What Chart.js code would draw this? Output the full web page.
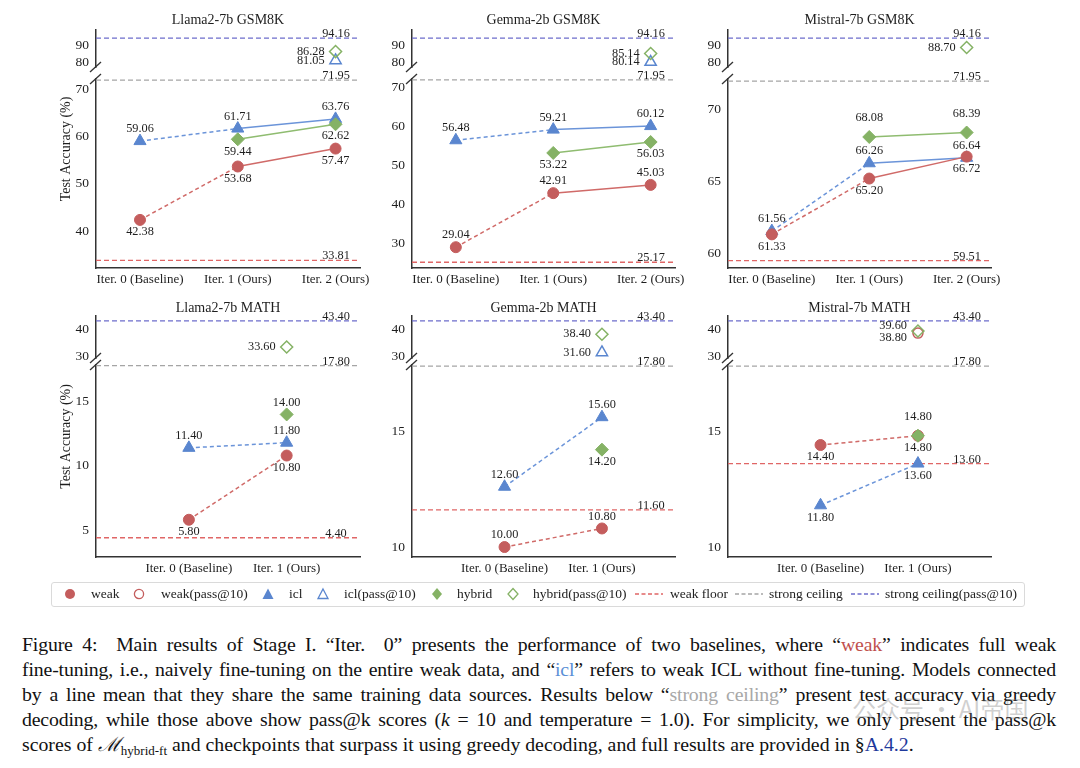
<!DOCTYPE html>
<html>
<head>
<meta charset="utf-8">
<script src="https://cdn.jsdelivr.net/npm/chart.js@4.4.1/dist/chart.umd.min.js"></script>
<style>
  body { margin: 0; background: #fff; width: 1080px; height: 768px; position: relative; overflow: hidden; font-family: "Liberation Serif", "Times New Roman", serif; }
  canvas.panel { position: absolute; }
  #legend { position: absolute; left: 51px; top: 582px; width: 974px; height: 25px; border: 1px solid #dadada; border-radius: 3px; box-sizing: border-box; }
  #legend svg { position: absolute; top: 4px; }
  #legend .lt { position: absolute; top: 0; line-height: 21px; font-size: 13.5px; color: #222; white-space: nowrap; }
  #caption { position: absolute; left: 22px; top: 632px; width: 1034px; font-size: 19.8px; line-height: 25px; color: #111; }
  #caption .ln { text-align: justify; text-align-last: justify; height: 25px; letter-spacing: -0.15px; }
  .cw { color: #c0504d; } .ci { color: #5b8fd6; } .cs { color: #a8a8a8; } .cr { color: #1f3a9c; }
  .sub { font-size: 13px; position: relative; top: 4px; }
  #wm { position: absolute; left: 852px; top: 690px; font-family: "Noto Sans CJK SC", sans-serif; font-size: 24px; color: rgba(120,120,120,0.35); white-space: nowrap; }
</style>
</head>
<body>

<canvas class="panel" id="c1"></canvas>
<canvas class="panel" id="c2"></canvas>
<canvas class="panel" id="c3"></canvas>
<canvas class="panel" id="c4"></canvas>
<canvas class="panel" id="c5"></canvas>
<canvas class="panel" id="c6"></canvas>

<div id="legend">
  <svg style="left:11px" width="14" height="14"><circle cx="7" cy="7" r="5" fill="#c45d5d"/></svg>
  <span class="lt" style="left:39px">weak</span>
  <svg style="left:80px" width="14" height="14"><circle cx="7" cy="7" r="4.6" fill="none" stroke="#c45d5d" stroke-width="1.3"/></svg>
  <span class="lt" style="left:109px">weak(pass@10)</span>
  <svg style="left:209px" width="14" height="14"><polygon points="7,1.5 12.5,12 1.5,12" fill="#5a86cf"/></svg>
  <span class="lt" style="left:237px">icl</span>
  <svg style="left:264px" width="14" height="14"><polygon points="7,2 12,11.5 2,11.5" fill="none" stroke="#5a86cf" stroke-width="1.3"/></svg>
  <span class="lt" style="left:292px">icl(pass@10)</span>
  <svg style="left:378px" width="14" height="14"><polygon points="7,1 12,7 7,13 2,7" fill="#85b265"/></svg>
  <span class="lt" style="left:405px">hybrid</span>
  <svg style="left:454px" width="14" height="14"><polygon points="7,1.5 12,7 7,12.5 2,7" fill="none" stroke="#85b265" stroke-width="1.3"/></svg>
  <span class="lt" style="left:481px">hybrid(pass@10)</span>
  <svg style="left:583px" width="28" height="14"><line x1="0" y1="7" x2="28" y2="7" stroke="#e06666" stroke-width="1.4" stroke-dasharray="4 2.5"/></svg>
  <span class="lt" style="left:618px">weak floor</span>
  <svg style="left:683px" width="28" height="14"><line x1="0" y1="7" x2="28" y2="7" stroke="#a5a5a5" stroke-width="1.4" stroke-dasharray="4 2.5"/></svg>
  <span class="lt" style="left:717px">strong ceiling</span>
  <svg style="left:799px" width="28" height="14"><line x1="0" y1="7" x2="28" y2="7" stroke="#6d6dcc" stroke-width="1.4" stroke-dasharray="4 2.5"/></svg>
  <span class="lt" style="left:833px">strong ceiling(pass@10)</span>
</div>

<div id="caption">
  <div class="ln">Figure 4:&nbsp; Main results of Stage I. “Iter.&nbsp; 0” presents the performance of two baselines, where “<span class="cw">weak</span>” indicates full weak</div>
  <div class="ln">fine-tuning, i.e., naively fine-tuning on the entire weak data, and “<span class="ci">icl</span>” refers to weak ICL without fine-tuning. Models connected</div>
  <div class="ln">by a line mean that they share the same training data sources. Results below “<span class="cs">strong ceiling</span>” present test accuracy via greedy</div>
  <div class="ln">decoding, while those above show pass@k scores (<i>k</i> = 10 and temperature = 1.0). For simplicity, we only present the pass@k</div>
  <div>scores of <i>ℳ</i><span class="sub">hybrid-ft</span> and checkpoints that surpass it using greedy decoding, and full results are provided in §<span class="cr">A.4.2</span>.</div>
</div>
<div id="wm">公众号 · AI帝国</div>

<script>
/* ===============================
   DATA
================================ */
const GSM_CATS = ["Iter. 0 (Baseline)", "Iter. 1 (Ours)", "Iter. 2 (Ours)"];
const MATH_CATS = ["Iter. 0 (Baseline)", "Iter. 1 (Ours)"];

const GSM_TOP_TICKS = [80, 90];
const MATH_TOP_TICKS = [30, 40];

// Llama2-7b GSM8K
const llamaGsmWeak = [42.38, 53.68, 57.47];
const llamaGsmIcl = [59.06, 61.71, 63.76];
const llamaGsmHybrid = [null, 59.44, 62.62];
const llamaGsmWeakPass = [null, null, null];
const llamaGsmIclPass = [null, null, 81.05];
const llamaGsmHybridPass = [null, null, 86.28];
const llamaGsmRefs = [33.81, 71.95, 94.16];   // weak floor, strong ceiling, strong ceiling(pass@10)
const llamaGsmTicks = [40, 50, 60, 70];

// Gemma-2b GSM8K
const gemmaGsmWeak = [29.04, 42.91, 45.03];
const gemmaGsmIcl = [56.48, 59.21, 60.12];
const gemmaGsmHybrid = [null, 53.22, 56.03];
const gemmaGsmWeakPass = [null, null, null];
const gemmaGsmIclPass = [null, null, 80.14];
const gemmaGsmHybridPass = [null, null, 85.14];
const gemmaGsmRefs = [25.17, 71.95, 94.16];
const gemmaGsmTicks = [30, 40, 50, 60, 70];

// Mistral-7b GSM8K
const mistralGsmWeak = [61.33, 65.20, 66.72];
const mistralGsmIcl = [61.56, 66.26, 66.64];
const mistralGsmHybrid = [null, 68.08, 68.39];
const mistralGsmWeakPass = [null, null, null];
const mistralGsmIclPass = [null, null, null];
const mistralGsmHybridPass = [null, null, 88.70];
const mistralGsmRefs = [59.51, 71.95, 94.16];
const mistralGsmTicks = [60, 65, 70];

// Llama2-7b MATH
const llamaMathWeak = [5.80, 10.80];
const llamaMathIcl = [11.40, 11.80];
const llamaMathHybrid = [null, 14.00];
const llamaMathWeakPass = [null, null];
const llamaMathIclPass = [null, null];
const llamaMathHybridPass = [null, 33.60];
const llamaMathRefs = [4.40, 17.80, 43.40];
const llamaMathTicks = [5, 10, 15];

// Gemma-2b MATH
const gemmaMathWeak = [10.00, 10.80];
const gemmaMathIcl = [12.60, 15.60];
const gemmaMathHybrid = [null, 14.20];
const gemmaMathWeakPass = [null, null];
const gemmaMathIclPass = [null, 31.60];
const gemmaMathHybridPass = [null, 38.40];
const gemmaMathRefs = [11.60, 17.80, 43.40];
const gemmaMathTicks = [10, 15];

// Mistral-7b MATH
const mistralMathWeak = [14.40, 14.80];
const mistralMathIcl = [11.80, 13.60];
const mistralMathHybrid = [null, 14.80];
const mistralMathWeakPass = [null, 38.80];
const mistralMathIclPass = [null, null];
const mistralMathHybridPass = [null, 39.60];
const mistralMathRefs = [13.60, 17.80, 43.40];
const mistralMathTicks = [10, 15];

/* ===============================
   STYLES
================================ */
const FONT = '"Liberation Serif", "Times New Roman", serif';
const AXIS_COLOR = "#333333";
const TEXT_COLOR = "#1e1e1e";

const SERIES = {
    weak:   { point: "#c45d5d", line: "#d06a68", shape: "circle",   r: 5.5 },
    icl:    { point: "#5a86cf", line: "#6b94d9", shape: "triangle", r: 7 },
    hybrid: { point: "#85b265", line: "#8fbc70", shape: "rectRot",  r: 6.5 }
};
const REF_COLORS = ["#e06666", "#a5a5a5", "#6d6dcc"];

const ROWS = [
    { top: 0,   height: 294, padTop: 30, weights: [189, 12, 37], titleGap: 10 },
    { top: 290, height: 293, padTop: 26, weights: [192, 7, 42],  titleGap: 8 }
];

/* ===============================
   PANELS
================================ */
const panels = [
    { id: "c1", title: "Llama2-7b GSM8K", row: 0, plotLeft: 96, plotW: 264, yTitle: true,
      cats: GSM_CATS, xr: [-0.45, 2.25], main: [32.2, 72.2], mainTicks: llamaGsmTicks, top: [77.2, 99], topTicks: GSM_TOP_TICKS,
      weak: llamaGsmWeak, icl: llamaGsmIcl, hybrid: llamaGsmHybrid,
      weakPass: llamaGsmWeakPass, iclPass: llamaGsmIclPass, hybridPass: llamaGsmHybridPass, refs: llamaGsmRefs,
      pos: { weak: ["b", "b", "b"], icl: ["a", "a", "a"], hybrid: [null, "b", "b"], weakPass: [], iclPass: [null, null, "l"], hybridPass: [null, null, "l"] } },
    { id: "c2", title: "Gemma-2b GSM8K", row: 0, plotLeft: 412, plotW: 263, yTitle: false,
      cats: GSM_CATS, xr: [-0.45, 2.25], main: [23.7, 72.2], mainTicks: gemmaGsmTicks, top: [77.2, 99], topTicks: GSM_TOP_TICKS,
      weak: gemmaGsmWeak, icl: gemmaGsmIcl, hybrid: gemmaGsmHybrid,
      weakPass: gemmaGsmWeakPass, iclPass: gemmaGsmIclPass, hybridPass: gemmaGsmHybridPass, refs: gemmaGsmRefs,
      pos: { weak: ["a", "a", "a"], icl: ["a", "a", "a"], hybrid: [null, "b", "b"], weakPass: [], iclPass: [null, null, "l"], hybridPass: [null, null, "l"] } },
    { id: "c3", title: "Mistral-7b GSM8K", row: 0, plotLeft: 728, plotW: 263, yTitle: false,
      cats: GSM_CATS, xr: [-0.45, 2.25], main: [59.0, 72.1], mainTicks: mistralGsmTicks, top: [77.2, 99], topTicks: GSM_TOP_TICKS,
      weak: mistralGsmWeak, icl: mistralGsmIcl, hybrid: mistralGsmHybrid,
      weakPass: mistralGsmWeakPass, iclPass: mistralGsmIclPass, hybridPass: mistralGsmHybridPass, refs: mistralGsmRefs,
      pos: { weak: ["b", "b", "b"], icl: ["a", "a", "a"], hybrid: [null, "A", "A"], weakPass: [], iclPass: [], hybridPass: [null, null, "l"] } },
    { id: "c4", title: "Llama2-7b MATH", row: 1, plotLeft: 96, plotW: 264, yTitle: true,
      cats: MATH_CATS, xr: [-0.95, 1.75], main: [2.9, 17.85], mainTicks: llamaMathTicks, top: [29.5, 45.2], topTicks: MATH_TOP_TICKS,
      weak: llamaMathWeak, icl: llamaMathIcl, hybrid: llamaMathHybrid,
      weakPass: llamaMathWeakPass, iclPass: llamaMathIclPass, hybridPass: llamaMathHybridPass, refs: llamaMathRefs,
      pos: { weak: ["b", "b"], icl: ["a", "a"], hybrid: [null, "a"], weakPass: [], iclPass: [], hybridPass: [null, "l"] } },
    { id: "c5", title: "Gemma-2b MATH", row: 1, plotLeft: 412, plotW: 263, yTitle: false,
      cats: MATH_CATS, xr: [-0.95, 1.75], main: [9.57, 17.85], mainTicks: gemmaMathTicks, top: [29.5, 45.2], topTicks: MATH_TOP_TICKS,
      weak: gemmaMathWeak, icl: gemmaMathIcl, hybrid: gemmaMathHybrid,
      weakPass: gemmaMathWeakPass, iclPass: gemmaMathIclPass, hybridPass: gemmaMathHybridPass, refs: gemmaMathRefs,
      pos: { weak: ["a", "a"], icl: ["a", "a"], hybrid: [null, "b"], weakPass: [], iclPass: [null, "l"], hybridPass: [null, "l"] } },
    { id: "c6", title: "Mistral-7b MATH", row: 1, plotLeft: 728, plotW: 263, yTitle: false,
      cats: MATH_CATS, xr: [-0.95, 1.75], main: [9.57, 17.85], mainTicks: mistralMathTicks, top: [29.5, 45.2], topTicks: MATH_TOP_TICKS,
      weak: mistralMathWeak, icl: mistralMathIcl, hybrid: mistralMathHybrid,
      weakPass: mistralMathWeakPass, iclPass: mistralMathIclPass, hybridPass: mistralMathHybridPass, refs: mistralMathRefs,
      pos: { weak: ["b", "b"], icl: ["b", "b"], hybrid: [null, "A"], weakPass: [null, "ld"], iclPass: [], hybridPass: [null, "lu"] } }
];

/* ===============================
   HELPERS
================================ */
function toPoints(values) {
    const out = [];
    values.forEach((v, i) => { if (v !== null) out.push({ x: i, y: v }); });
    return out;
}
function toPos(values, pos) {
    const out = [];
    values.forEach((v, i) => { if (v !== null) out.push(pos[i] || null); });
    return out;
}

function seriesSet(key, values, pos) {
    const st = SERIES[key];
    return {
        data: toPoints(values),
        labelPos: toPos(values, pos),
        yAxisID: "yMain",
        showLine: true,
        borderColor: st.line,
        borderWidth: 1.5,
        segment: { borderDash: c => (c.p0.parsed.x === 0 ? [4, 3] : undefined) },
        pointStyle: st.shape,
        pointRadius: st.r,
        pointBackgroundColor: st.point,
        pointBorderColor: st.point,
        pointBorderWidth: 1
    };
}

function passSet(key, values, pos) {
    const st = SERIES[key];
    return {
        data: toPoints(values),
        labelPos: toPos(values, pos),
        yAxisID: "yTop",
        showLine: false,
        pointStyle: st.shape,
        pointRadius: st.r - 0.5,
        pointBackgroundColor: "rgba(255,255,255,0)",
        pointBorderColor: st.point,
        pointBorderWidth: 1.5
    };
}

function refSet(value, idx, xr) {
    return {
        data: [{ x: xr[0], y: value }, { x: xr[1], y: value }],
        refLabel: value.toFixed(2),
        yAxisID: idx === 2 ? "yTop" : "yMain",
        showLine: true,
        borderColor: REF_COLORS[idx],
        borderWidth: 1.3,
        borderDash: [5, 3],
        pointRadius: 0
    };
}

/* ===============================
   PLUGIN: labels, titles, breaks
================================ */
const panelDecor = {
    id: "panelDecor",
    afterDatasetsDraw(chart) {
        const ctx = chart.ctx;
        const a = chart.chartArea;
        ctx.save();
        ctx.font = "12.3px " + FONT;
        ctx.fillStyle = TEXT_COLOR;
        chart.data.datasets.forEach((ds, di) => {
            const meta = chart.getDatasetMeta(di);
            if (ds.refLabel) {
                const y = meta.data[0].y;
                ctx.textAlign = "center";
                ctx.textBaseline = "alphabetic";
                ctx.fillText(ds.refLabel, a.right - 24, y - 1);
                return;
            }
            if (!ds.labelPos) return;
            meta.data.forEach((pt, i) => {
                const p = ds.labelPos[i];
                if (!p) return;
                const txt = ds.data[i].y.toFixed(2);
                ctx.textBaseline = "middle";
                if (p === "a" || p === "A" || p === "b") {
                    ctx.textAlign = "center";
                    const dy = p === "a" ? -12 : (p === "A" ? -19 : 12);
                    ctx.fillText(txt, pt.x, pt.y + dy);
                } else {
                    ctx.textAlign = "right";
                    const dy = p === "lu" ? -5 : (p === "ld" ? 5 : 0);
                    ctx.fillText(txt, pt.x - 11, pt.y + dy);
                }
            });
        });
        ctx.restore();
    },
    afterDraw(chart) {
        const o = chart.options.plugins.panelDecor;
        const ctx = chart.ctx;
        const a = chart.chartArea;
        ctx.save();
        ctx.fillStyle = TEXT_COLOR;
        ctx.font = "14px " + FONT;
        ctx.textAlign = "center";
        ctx.textBaseline = "middle";
        ctx.fillText(o.title, (a.left + a.right) / 2, a.top - o.titleGap);

        if (o.yTitle) {
            ctx.save();
            ctx.translate(a.left - 30, (a.top + a.bottom) / 2);
            ctx.rotate(-Math.PI / 2);
            ctx.fillText("Test Accuracy (%)", 0, 0);
            ctx.restore();
        }

        // axis break marks
        const yTop = chart.scales.yTop;
        const yMain = chart.scales.yMain;
        ctx.strokeStyle = AXIS_COLOR;
        ctx.lineWidth = 1.3;
        [yTop.bottom, yMain.top].forEach(y => {
            ctx.beginPath();
            ctx.moveTo(a.left - 6, y + 5);
            ctx.lineTo(a.left + 5, y - 5);
            ctx.stroke();
        });
        ctx.restore();
    }
};

/* ===============================
   BUILD CHARTS
================================ */
function yAxis(range, ticks, weight, show) {
    return {
        type: "linear",
        position: "left",
        stack: "y",
        stackWeight: weight,
        min: range[0],
        max: range[1],
        grid: { display: false, drawTicks: false },
        border: { display: show, color: AXIS_COLOR, width: 1.5 },
        ticks: { display: show, color: TEXT_COLOR, font: { family: FONT, size: 13.5 }, padding: 7, callback: v => v },
        afterBuildTicks: s => { s.ticks = ticks.map(v => ({ value: v })); },
        afterFit: s => { s.width = 60; s.paddingTop = 0; s.paddingBottom = 0; }
    };
}

function buildPanel(p) {
    const row = ROWS[p.row];
    const canvas = document.getElementById(p.id);
    const W = 60 + p.plotW + 24;
    canvas.width = W;
    canvas.height = row.height;
    canvas.style.left = (p.plotLeft - 60) + "px";
    canvas.style.top = row.top + "px";

    const datasets = [
        seriesSet("hybrid", p.hybrid, p.pos.hybrid),
        seriesSet("weak", p.weak, p.pos.weak),
        seriesSet("icl", p.icl, p.pos.icl),
        passSet("hybrid", p.hybridPass, p.pos.hybridPass),
        passSet("weak", p.weakPass, p.pos.weakPass),
        passSet("icl", p.iclPass, p.pos.iclPass),
        refSet(p.refs[0], 0, p.xr),
        refSet(p.refs[1], 1, p.xr),
        refSet(p.refs[2], 2, p.xr)
    ];

    new Chart(canvas, {
        type: "scatter",
        data: { datasets: datasets },
        plugins: [panelDecor],
        options: {
            responsive: false,
            animation: false,
            devicePixelRatio: 1,
            layout: { padding: { top: row.padTop, right: 24, bottom: 4, left: 0 } },
            plugins: {
                legend: { display: false },
                tooltip: { enabled: false },
                panelDecor: { title: p.title, yTitle: p.yTitle, titleGap: row.titleGap }
            },
            scales: {
                x: {
                    type: "linear",
                    min: p.xr[0],
                    max: p.xr[1],
                    grid: { display: false, drawTicks: false },
                    border: { display: true, color: AXIS_COLOR, width: 1.5 },
                    ticks: {
                        color: TEXT_COLOR,
                        font: { family: FONT, size: 13 },
                        padding: 4,
                        maxRotation: 0,
                        autoSkip: false,
                        callback: v => p.cats[v]
                    },
                    afterBuildTicks: s => { s.ticks = p.cats.map((c, i) => ({ value: i })); },
                    afterFit: s => { s.height = 22; s.paddingLeft = 0; s.paddingRight = 0; }
                },
                // stacked left axes: last defined sits on top
                yMain: yAxis(p.main, p.mainTicks, row.weights[0], true),
                yGap: yAxis([0, 1], [], row.weights[1], false),
                yTop: yAxis(p.top, p.topTicks, row.weights[2], true)
            }
        }
    });
}

panels.forEach(buildPanel);
</script>
</body>
</html>
